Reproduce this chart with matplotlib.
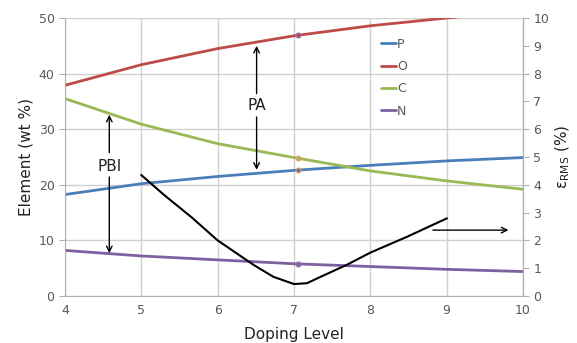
import matplotlib
matplotlib.use("Agg")
import matplotlib.pyplot as plt
import numpy as np

doping = [4, 5, 6, 7, 8, 9, 10]
P = [18.25, 20.2, 21.5, 22.6, 23.5, 24.3, 24.9]
O = [37.9, 41.6, 44.5, 46.8, 48.6, 50.0, 51.4]
C = [35.5, 30.9, 27.4, 24.9, 22.5, 20.7, 19.2]
N = [8.2, 7.2, 6.5, 5.8, 5.3, 4.8, 4.4]

eps_x = [5.0, 5.3, 5.65, 6.0, 6.47, 6.73, 7.0, 7.17, 7.34, 7.69, 8.0, 8.48, 9.0]
eps_y = [4.35, 3.63, 2.85, 2.0, 1.12, 0.69, 0.43, 0.46, 0.68, 1.12, 1.56, 2.13, 2.79]

mark_x = 7.05

grey = "#595959"
fig = plt.figure(figsize=(5.77, 3.43), dpi=100)
ax = fig.add_axes([0.1127, 0.137, 0.7937, 0.8105])
ax2 = ax.twinx()

cols = {"P": "#4a7ebb", "O": "#be4b48", "C": "#98b954", "N": "#7d60a0"}
medge = {"P": "#e8a070", "O": "#9a70b0", "C": "#e8a070", "N": "#9a70b0"}
for name, vals in [("P", P), ("O", O), ("C", C), ("N", N)]:
    ax.plot(doping, vals, color=cols[name], lw=2, label=name, clip_on=True,
            solid_capstyle="round")
    ax.plot([mark_x], [np.interp(mark_x, doping, vals)], 'o', ms=3.5,
            mfc=cols[name], mec=medge[name], mew=0.8)

ax.set_xlim(4, 10)
ax.set_ylim(0, 50)
ax.set_xticks(range(4, 11))
ax.set_yticks(range(0, 51, 10))
ax.grid(True, color="#d0d0d0", lw=1)
ax.set_axisbelow(True)
ax.spines["top"].set_visible(False)
for s in ["left", "bottom", "right"]:
    ax.spines[s].set_color("#b0b0b0")
ax.tick_params(axis="y", colors=grey, labelsize=9, length=4, color="#b0b0b0")
ax.tick_params(axis="x", colors=grey, labelsize=9, length=0, pad=6)
ax.set_xlabel("Doping Level", fontsize=11, color="#222222", labelpad=7)
ax.set_ylabel("Element (wt %)", fontsize=11, color="#222222", labelpad=4)

ax2.plot(eps_x, eps_y, color="black", lw=1.5)
ax2.set_ylim(0, 10)
ax2.set_yticks(range(0, 11))
ax2.spines["top"].set_visible(False)
ax2.spines["right"].set_color("#b0b0b0")
ax2.spines["left"].set_visible(False)
ax2.spines["bottom"].set_visible(False)
ax2.tick_params(axis="y", colors=grey, labelsize=9, length=4, color="#b0b0b0")
ax2.set_ylabel("ε$_{\\mathrm{RMS}}$ (%)", fontsize=11, color="#222222", labelpad=3)

arrow = dict(arrowstyle="->", color="black", lw=1, shrinkA=0, shrinkB=0)
# PBI
ax.annotate("", xy=(4.58, 32.6), xytext=(4.58, 25.8), arrowprops=arrow)
ax.annotate("", xy=(4.58, 7.7), xytext=(4.58, 21.4), arrowprops=arrow)
ax.text(4.58, 23.3, "PBI", ha="center", va="center", fontsize=11, color="#222222")
# PA
ax.annotate("", xy=(6.51, 45.0), xytext=(6.51, 36.4), arrowprops=arrow)
ax.annotate("", xy=(6.51, 22.7), xytext=(6.51, 32.2), arrowprops=arrow)
ax.text(6.51, 34.2, "PA", ha="center", va="center", fontsize=11, color="#222222")
# right arrow
ax2.annotate("", xy=(9.81, 2.37), xytext=(8.82, 2.37), arrowprops=arrow)

leg = ax.legend(loc="upper left", bbox_to_anchor=(0.665, 0.97), frameon=False,
                fontsize=9, handlelength=1.2, handletextpad=0.1, labelspacing=0.75,
                labelcolor=grey)

fig.savefig("out.png", dpi=100)
